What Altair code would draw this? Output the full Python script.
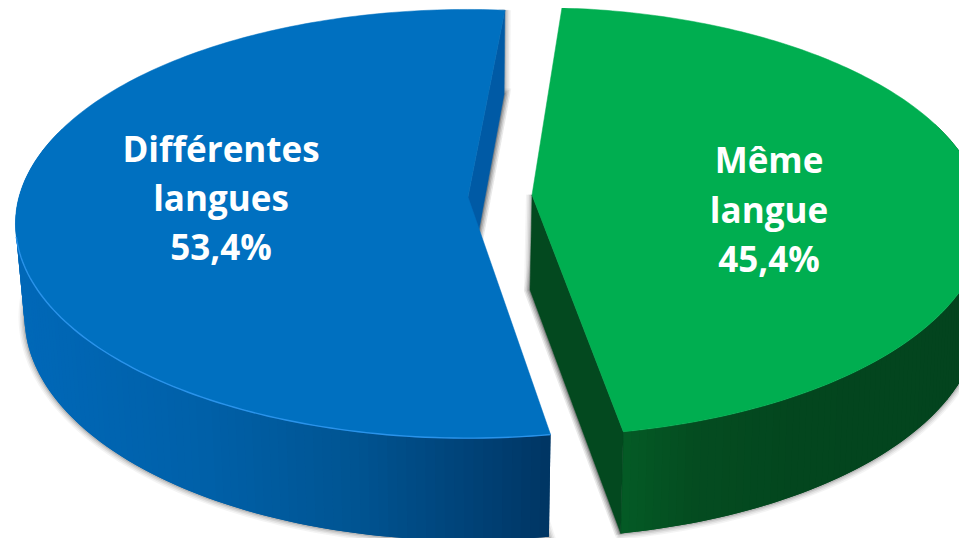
import math
import numpy as np
import altair as alt

# ---- chart values
names = ["Différentes langues", "Même langue"]
values = [53.4, 45.4]
label_lines = [["Différentes", "langues", "53,4%"], ["Même", "langue", "45,4%"]]

# ---- look of the two exploded 3D slices
start_deg = [5.3, 4.3]              # clockwise from the back of the disc; blue runs anticlockwise
direction = [-1, 1]
top_apex = [(468, 197), (532, 195)]
bot_apex = [(468, 289), (530, 290)]
top_ab = [(449, 211), (449, 211)]
bot_ab = [(440, 220), (446, 217)]
persp = 0.125
top_fill = ["#0070c0", "#00ae50"]
inner_fill = ["#005aa5", "#03491f"]
cut_wall_end = [0, -1]              # which cut face of the slice faces the viewer
rim = "#2a93ea"
wall_x = [[16, 200, 350, 480, 550], [530, 620, 700, 800, 967]]
wall_rgb = [
    [(0, 104, 184), (0, 96, 168), (0, 84, 146), (0, 64, 116), (0, 53, 98)],
    [(4, 92, 38), (4, 92, 38), (4, 76, 32), (3, 70, 30), (3, 68, 30)],
]
label_x = [221, 769]
label_base = [[162, 211, 260], [173, 223, 272]]


def project(apex, ab, deg):
    t = math.radians(deg)
    w = 1 + persp * math.cos(t)
    return [apex[0] + ab[0] * math.sin(t) / w, apex[1] - ab[1] * math.cos(t) / w]


def feat(rings, fill="none", stroke="none", sw=0, op=1.0, closed=True):
    geom = {"type": "Polygon", "coordinates": [rings]} if closed else {"type": "LineString", "coordinates": rings}
    return {
        "type": "Feature",
        "geometry": geom,
        "properties": {"fill": fill, "stroke": stroke, "sw": sw, "op": op},
    }


total = sum(values)
shadow, walls, tops = [], [], []
for i, v in enumerate(values):
    sweep = v / total * 360
    a0 = start_deg[i]
    d = direction[i]
    degs = [a0 + d * sweep * k / 180 for k in range(181)]
    top_arc = [project(top_apex[i], top_ab[i], a) for a in degs]
    bot_arc = [project(bot_apex[i], bot_ab[i], a) for a in degs]
    tap, bap = list(top_apex[i]), list(bot_apex[i])
    e = cut_wall_end[i]
    cut = [tap, top_arc[e], bot_arc[e], bap, tap]

    # drop shadow below the walls
    outline = [bap] + bot_arc + [bap]
    for sw, op in [(12, 0.06), (9, 0.08), (6, 0.11), (3, 0.18)]:
        shadow.append(feat(outline, stroke="#444444", sw=sw, op=op))
        shadow.append(feat(cut, stroke="#444444", sw=sw, op=op))

    # curved outer wall, in overlapping shaded strips, back to front
    front = [k for k in range(180) if math.cos(math.radians(degs[k])) < 0.35]
    for k in front:
        nxt = min(k + 2, 180)
        rgb = [float(np.interp(top_arc[k][0], wall_x[i], [c[j] for c in wall_rgb[i]])) for j in range(3)]
        col = "#%02x%02x%02x" % tuple(int(round(c)) for c in rgb)
        q = [top_arc[k], top_arc[nxt], bot_arc[nxt], bot_arc[k], top_arc[k]]
        walls.append(feat(q, fill=col))

    # the visible cut face
    walls.append(feat(cut, fill=inner_fill[i], stroke=inner_fill[i], sw=0.5))

    # top face
    tops.append(feat([tap] + top_arc + [tap], fill=top_fill[i], stroke=top_fill[i], sw=0.5))
    if i == 0:
        rim_arc = [p for p, a in zip(top_arc, degs) if a < -100]
        tops.append(feat(rim_arc, stroke=rim, sw=1.4, closed=False))

features = shadow + walls + tops

shapes = (
    alt.Chart(alt.Data(values=features))
    .mark_geoshape()
    .encode(
        fill=alt.Fill("properties.fill:N", scale=None),
        stroke=alt.Stroke("properties.stroke:N", scale=None),
        strokeWidth=alt.StrokeWidth("properties.sw:Q", scale=None),
        opacity=alt.Opacity("properties.op:Q", scale=None),
    )
    .project(type="identity", scale=1, translate=[-8, -8])
)

rows = []
for i, lines in enumerate(label_lines):
    for line, base in zip(lines, label_base[i]):
        rows.append({"t": line, "px": label_x[i] - 8, "py": base - 8})

labels = (
    alt.Chart(alt.Data(values=rows))
    .mark_text(
        font="Open Sans",
        fontWeight="bold",
        fontSize=35,
        color="white",
        align="center",
        baseline="alphabetic",
    )
    .encode(
        x=alt.X("px:Q", scale=None, axis=None),
        y=alt.Y("py:Q", scale=None, axis=None),
        text="t:N",
    )
)

chart = (
    alt.layer(shapes, labels)
    .properties(width=951, height=530, padding=0, background="white")
    .configure_view(stroke=None)
)

chart.save("out.html", embed_options={"renderer": "svg", "actions": False})
